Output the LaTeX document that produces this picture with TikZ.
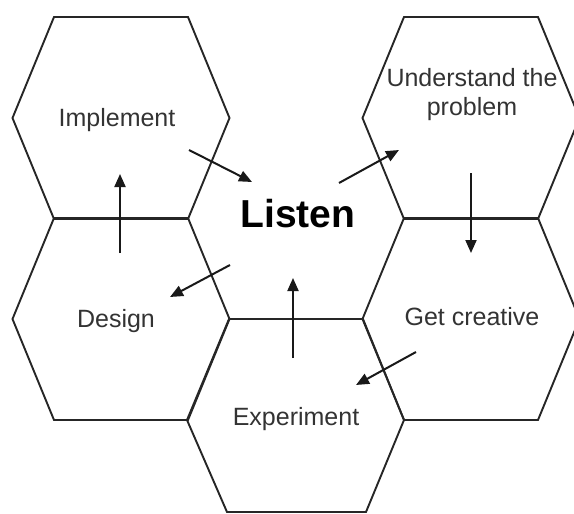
\documentclass[tikz,border=0pt]{standalone}
\usepackage{fontspec}
\setmainfont{Liberation Sans}
\usetikzlibrary{arrows.meta}

\begin{document}
\begin{tikzpicture}[x=1pt,y=-1pt,
  hexline/.style={draw=black!85,line width=1.9pt,line join=miter},
  cell/.pic={\path[hexline] (-108.5,0) -- (-67,-101) -- (67,-101) -- (108.5,0)
                         -- (67,101) -- (-67,101) -- cycle;},
  label/.style={font=\fontsize{25}{29}\selectfont,text=black!80,align=center,inner sep=0pt},
  hub/.style={font=\fontsize{39}{44}\selectfont\bfseries,text=black,inner sep=0pt},
  flow/.style={draw=black!90,line width=2pt,-{Triangle[length=13pt,width=11pt]}}
]
\useasboundingbox (0,0) rectangle (574,514);
\clip (0,0) rectangle (574,514);

% honeycomb cells
\pic at (121,118) {cell};
\pic at (121,319) {cell};
\pic at (471,118) {cell};
\pic at (471,319) {cell};
% bottom cell runs off the lower edge
\path[hexline] (229,319) -- (363,319) -- (404,420) -- (366,512)
               -- (227,512) -- (187,420) -- cycle;

% labels
\node[label,anchor=base] (implement) at (117,126) {Implement};
\node[label,anchor=base] (design)    at (116,327) {Design};
\node[label,anchor=base] (understand) at (472,115) {Understand the\\problem};
\node[label,anchor=base] (creative)  at (472,325) {Get creative};
\node[label,anchor=base] (experiment) at (296,425) {Experiment};
\node[hub,anchor=base]   (listen)    at (298,227) {Listen};

% arrow end points
\coordinate (implOut) at (189,150);  \coordinate (listenIn1) at (252,182);
\coordinate (listenOut1) at (339,183); \coordinate (undIn) at (399,150);
\coordinate (undOut) at (471,173);   \coordinate (creIn) at (471,253);
\coordinate (creOut) at (416,352);   \coordinate (expIn) at (356,385);
\coordinate (expOut) at (293,358);   \coordinate (listenIn2) at (293,278);
\coordinate (listenOut2) at (230,265); \coordinate (desIn) at (170,297);
\coordinate (desOut) at (120,253);   \coordinate (implIn) at (120,174);

% cycle of arrows
\draw[flow] (implOut) -- (listenIn1);
\draw[flow] (listenOut1) -- (undIn);
\draw[flow] (undOut) -- (creIn);
\draw[flow] (creOut) -- (expIn);
\draw[flow] (expOut) -- (listenIn2);
\draw[flow] (listenOut2) -- (desIn);
\draw[flow] (desOut) -- (implIn);
\end{tikzpicture}
\end{document}
